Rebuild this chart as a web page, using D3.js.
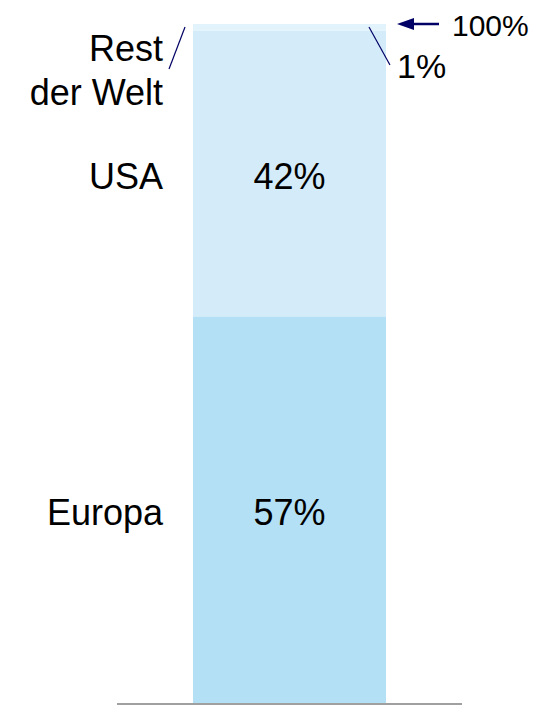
<!DOCTYPE html>
<html>
<head>
<meta charset="utf-8">
<script src="https://cdn.jsdelivr.net/npm/d3@7"></script>
<style>
  body { margin: 0; background: #fff; }
  text { font-family: "Liberation Sans", Arial, sans-serif; fill: #000; }
</style>
</head>
<body>
<div id="chart"></div>
<script>
// segments from bottom to top
let regions = ['Europa', 'USA', 'Rest der Welt'];
let shares = [57, 42, 1];
let colors = ['#b3e0f5', '#d4ecf9', '#e2f3fc'];
let totalLabel = '100%';

let width = 535, height = 705;

let svg = d3.select('#chart').
append('svg').
attr('width', width).
attr('height', height);

let y = d3.scaleLinear().domain([0, 100]).range([704, 24]);
let x = d3.scaleBand().domain(['total']).range([117, 462]).paddingInner(0).paddingOuter(0.394);

let stacked = [];
let acc = 0;
shares.forEach(function (v, i) {
  stacked.push({ name: regions[i], v: v, y0: acc, y1: acc + v, color: colors[i] });
  acc += v;
});

svg.selectAll('rect.seg').
data(stacked).
enter().
append('rect').
attr('class', 'seg').
attr('x', x('total')).
attr('width', x.bandwidth()).
attr('y', d => y(d.y1)).
attr('height', d => y(d.y0) - y(d.y1)).
attr('fill', d => d.color);

// baseline
svg.append('line').
attr('x1', 117).attr('x2', 462).
attr('y1', 704).attr('y2', 704).
attr('stroke', '#a0a0a0').attr('stroke-width', 2);

let barL = x('total'), barR = x('total') + x.bandwidth();
let labelX = barL - 30;
let mid = d => (y(d.y0) + y(d.y1)) / 2;

// big segments: name left, value inside
stacked.slice(0, 2).forEach(function (d) {
  svg.append('text').
  attr('x', labelX).attr('y', mid(d)).
  attr('dy', '0.42em').attr('text-anchor', 'end').
  style('font-size', '36px').
  text(d.name);
  svg.append('text').
  attr('x', (barL + barR) / 2).attr('y', mid(d)).
  attr('dy', '0.42em').attr('text-anchor', 'middle').
  style('font-size', '36px').
  text(d.v + '%');
});

// small segment labels with leader lines
let rest = stacked[2];
let restText = svg.append('text').
attr('text-anchor', 'end').
style('font-size', '36px');
restText.append('tspan').attr('x', labelX).attr('y', 61).text('Rest');
restText.append('tspan').attr('x', labelX).attr('y', 105).text('der Welt');

svg.append('line').
attr('x1', barL - 8).attr('y1', y(rest.y1) + 3).
attr('x2', barL - 24).attr('y2', 69).
attr('stroke', '#000066').attr('stroke-width', 1.2);

svg.append('line').
attr('x1', barR - 17).attr('y1', y(rest.y1) + 3).
attr('x2', barR + 4).attr('y2', 65).
attr('stroke', '#000066').attr('stroke-width', 1.2);

svg.append('text').
attr('x', barR + 11).attr('y', 78).
style('font-size', '34px').
text(rest.v + '%');

// total marker: arrow pointing at the top of the bar
let ay = y(100);
let tip = barR + 11;
svg.append('line').
attr('x1', 439).attr('y1', ay).
attr('x2', tip + 12).attr('y2', ay).
attr('stroke', '#000066').attr('stroke-width', 2.5);

svg.append('path').
attr('d', d3.line()([[tip, ay], [tip + 17, ay - 6], [tip + 17, ay + 6]]) + 'Z').
attr('fill', '#000066');

svg.append('text').
attr('x', 452).attr('y', 36).
style('font-size', '30px').
text(totalLabel);
</script>
</body>
</html>
